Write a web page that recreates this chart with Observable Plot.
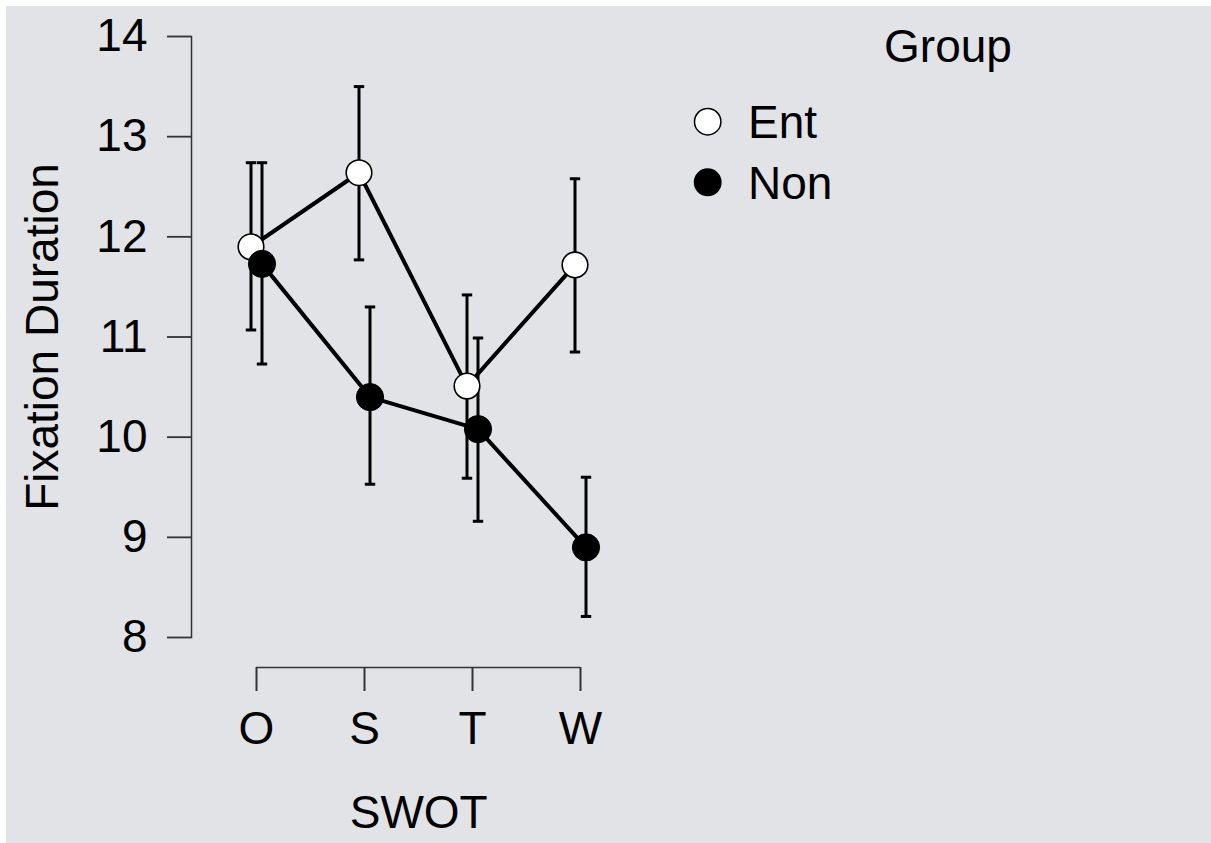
<!DOCTYPE html>
<html>
<head>
<meta charset="utf-8">
<script src="https://cdn.jsdelivr.net/npm/d3@7"></script>
<script src="https://cdn.jsdelivr.net/npm/@observablehq/plot@0.6"></script>
<style>
  html, body { margin: 0; padding: 0; background: #ffffff; }
  body { padding: 6px 0 0 6px; width: 1205px; height: 837px; overflow: hidden; }
  #chart svg { display: block; }
</style>
</head>
<body>
<div id="chart"></div>
<script>
const categories = ["O", "S", "T", "W"];
const groups = ["Ent", "Non"];
const entMean = [11.90, 12.64, 10.51, 11.72];
const entLo   = [11.07, 11.77, 9.59, 10.85];
const entHi   = [12.74, 13.50, 11.42, 12.58];
const nonMean = [11.73, 10.40, 10.08, 8.90];
const nonLo   = [10.73, 9.53, 9.16, 8.21];
const nonHi   = [12.74, 11.30, 10.99, 9.60];
const yTicks = [8, 9, 10, 11, 12, 13, 14];
const yLabel = "Fixation Duration";
const xLabel = "SWOT";
const legendTitle = "Group";

const FONT = "'Liberation Sans', Arial, Helvetica, sans-serif";
const FS = 46;
const INK = "#000";
const AXIS = "#333";

const ent = categories.map((c, i) => ({swot: c, mean: entMean[i], lo: entLo[i], hi: entHi[i]}));
const non = categories.map((c, i) => ({swot: c, mean: nonMean[i], lo: nonLo[i], hi: nonHi[i]}));

const capSymbol = {
  draw(context, size) {
    const h = Math.sqrt(size / Math.PI);
    context.moveTo(-h, 0);
    context.lineTo(h, 0);
  }
};

const DX = 5.5;
function barMarks(data, dx) {
  return [
    Plot.ruleX(data, {x: "swot", y1: "lo", y2: "hi", dx, stroke: INK, strokeWidth: 3}),
    Plot.dot(data, {x: "swot", y: "hi", dx, symbol: capSymbol, r: 5.2, stroke: INK, strokeWidth: 3, fill: "none"}),
    Plot.dot(data, {x: "swot", y: "lo", dx, symbol: capSymbol, r: 5.2, stroke: INK, strokeWidth: 3, fill: "none"})
  ];
}

const chart = Plot.plot({
  width: 1205,
  height: 837,
  marginTop: 30,
  marginLeft: 185,
  marginBottom: 206,
  marginRight: 565.6,
  style: {background: "#e2e3e7", fontFamily: FONT, fontSize: FS + "px", color: INK, overflow: "visible"},
  x: {type: "point", domain: categories, padding: 0, inset: 64.7, axis: null},
  y: {domain: [8, 14], axis: null},
  marks: [
    Plot.frame({anchor: "left", stroke: AXIS, strokeWidth: 1.5}),
    Plot.axisY(yTicks, {anchor: "left", tickSize: 24, tickPadding: 20, tickFormat: d3.format("d"), stroke: AXIS, strokeWidth: 1.8, fontSize: FS, fill: INK, label: null}),
    Plot.ruleY([8], {x1: () => categories[0], x2: () => categories[categories.length - 1], dy: 30, stroke: AXIS, strokeWidth: 1.5}),
    Plot.axisX(categories, {anchor: "bottom", dy: 30, tickSize: 24, tickPadding: 20, stroke: AXIS, strokeWidth: 2, fontSize: FS, fill: INK, label: null}),
    Plot.text([yLabel], {frameAnchor: "left", rotate: -90, dx: -148, textAnchor: "middle", lineAnchor: "middle", fontSize: FS, fill: INK}),
    Plot.text([xLabel], {frameAnchor: "bottom", dy: 176, textAnchor: "middle", lineAnchor: "middle", fontSize: FS, fill: INK}),
    ...barMarks(ent, -DX),
    ...barMarks(non, DX),
    Plot.line(ent, {x: "swot", y: "mean", dx: -DX, stroke: INK, strokeWidth: 4}),
    Plot.line(non, {x: "swot", y: "mean", dx: DX, stroke: INK, strokeWidth: 4}),
    Plot.dot(ent, {x: "swot", y: "mean", dx: -DX, r: 12.8, fill: "#fff", stroke: INK, strokeWidth: 1.6}),
    Plot.dot(non, {x: "swot", y: "mean", dx: DX, r: 13.6, fill: INK, stroke: INK, strokeWidth: 1})
  ]
});

// Legend (inside the plot area, to the right)
const svg = d3.select(chart);
const lg = svg.append("g").attr("font-family", FONT).attr("font-size", FS).attr("fill", INK);
lg.append("text").attr("x", 942).attr("y", 56).attr("text-anchor", "middle").text(legendTitle);
const legendFill = {Ent: "#fff", Non: INK};
groups.forEach((g, i) => {
  const cy = 115.7 + i * 60.6;
  lg.append("circle").attr("cx", 701.7).attr("cy", cy).attr("r", 13.2)
    .attr("fill", legendFill[g]).attr("stroke", INK).attr("stroke-width", 1.5);
  lg.append("text").attr("x", 742).attr("y", cy + 16.5).attr("text-anchor", "start").text(g);
});

document.getElementById("chart").appendChild(chart);
</script>
</body>
</html>
